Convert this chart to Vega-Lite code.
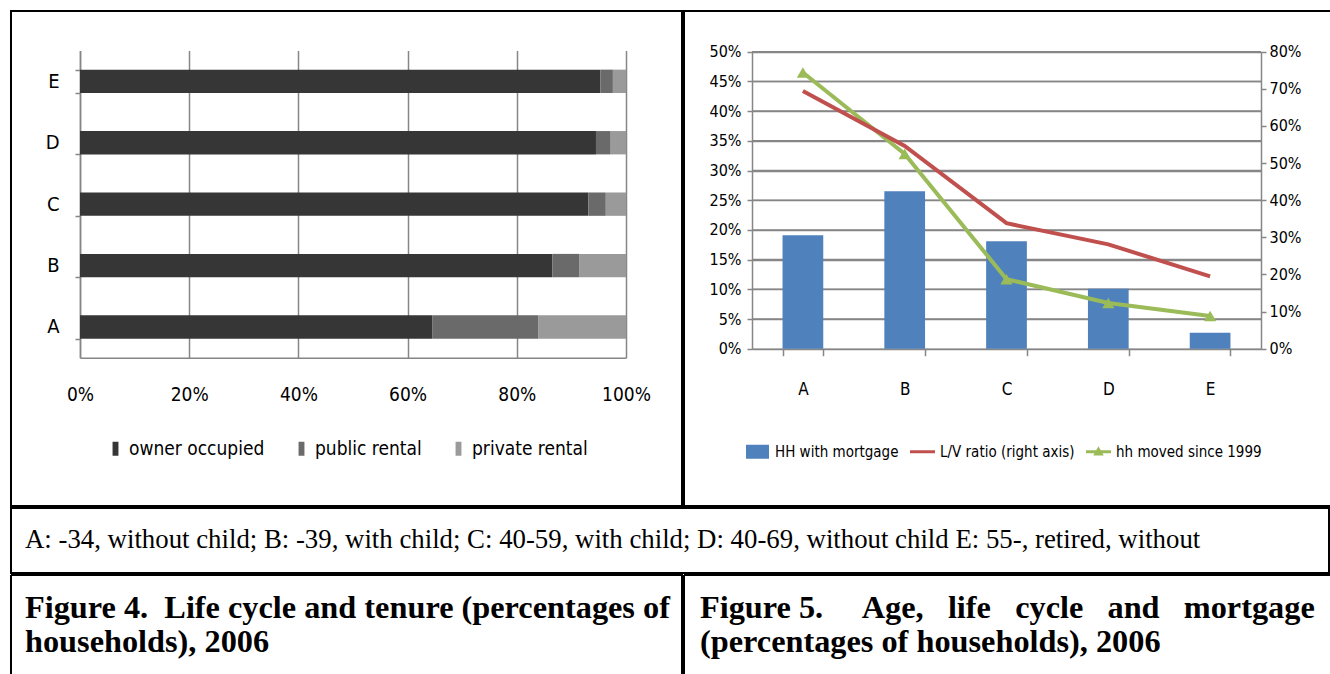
{
  "$schema": "https://vega.github.io/schema/vega-lite/v6.json",
  "padding": {"left": 10, "top": 0, "right": 0, "bottom": 0},
  "spacing": 0,
  "config": {
    "view": {"stroke": "#000000", "strokeWidth": 2},
    "axis": {
      "labelFont": "DejaVu Sans Condensed, Liberation Sans Narrow, sans-serif",
      "labelColor": "#000000",
      "domainColor": "#868686",
      "tickColor": "#868686",
      "gridColor": "#868686",
      "domainWidth": 1.5,
      "tickWidth": 1.5,
      "gridWidth": 1.5
    },
    "legend": {
      "labelFont": "DejaVu Sans Condensed, Liberation Sans Narrow, sans-serif",
      "labelColor": "#000000",
      "labelLimit": 400
    }
  },
  "vconcat": [
    {
      "spacing": 0,
      "resolve": {"scale": {"color": "independent"}, "legend": {"color": "independent"}},
      "hconcat": [
        {
          "width": 671,
          "height": 495,
          "data": {
            "values": [
              {"group": "A", "tenure": "owner occupied", "rank": 1, "share": 0.645},
              {"group": "A", "tenure": "public rental", "rank": 2, "share": 0.194},
              {"group": "A", "tenure": "private rental", "rank": 3, "share": 0.161},
              {"group": "B", "tenure": "owner occupied", "rank": 1, "share": 0.865},
              {"group": "B", "tenure": "public rental", "rank": 2, "share": 0.05},
              {"group": "B", "tenure": "private rental", "rank": 3, "share": 0.085},
              {"group": "C", "tenure": "owner occupied", "rank": 1, "share": 0.931},
              {"group": "C", "tenure": "public rental", "rank": 2, "share": 0.032},
              {"group": "C", "tenure": "private rental", "rank": 3, "share": 0.037},
              {"group": "D", "tenure": "owner occupied", "rank": 1, "share": 0.945},
              {"group": "D", "tenure": "public rental", "rank": 2, "share": 0.027},
              {"group": "D", "tenure": "private rental", "rank": 3, "share": 0.028},
              {"group": "E", "tenure": "owner occupied", "rank": 1, "share": 0.953},
              {"group": "E", "tenure": "public rental", "rank": 2, "share": 0.023},
              {"group": "E", "tenure": "private rental", "rank": 3, "share": 0.024}
            ]
          },
          "mark": {"type": "bar"},
          "encoding": {
            "y": {
              "field": "group",
              "type": "nominal",
              "scale": {"domain": ["E", "D", "C", "B", "A"], "range": [39.6, 346.7], "paddingInner": 0.62, "paddingOuter": 0.31},
              "axis": {"title": null, "orient": "left", "offset": -69, "grid": false, "tickBand": "extent", "tickSize": 5, "labelPadding": 16, "labelFontSize": 20, "labelAngle": 0}
            },
            "x": {
              "field": "share",
              "type": "quantitative",
              "stack": "zero",
              "scale": {"domain": [0, 1], "range": [69, 615]},
              "axis": {"title": null, "orient": "bottom", "offset": -148.3, "values": [0, 0.2, 0.4, 0.6, 0.8, 1], "format": ".0%", "grid": false, "tickSize": -307.1, "labelPadding": 334.4, "labelFontSize": 19, "labelFlush": false, "labelOverlap": false}
            },
            "order": {"field": "rank", "type": "quantitative"},
            "color": {
              "field": "tenure",
              "type": "nominal",
              "scale": {"domain": ["owner occupied", "public rental", "private rental"], "range": ["#363636", "#6a6a6a", "#9a9a9a"]},
              "legend": {
                "title": null,
                "orient": "none",
                "legendX": 95,
                "legendY": 428,
                "direction": "horizontal",
                "labelFontSize": 19,
                "symbolSize": 196,
                "symbolType": "M-0.42,-1H0.42V1H-0.42Z",
                "symbolStrokeWidth": 0,
                "labelOffset": 4,
                "columnPadding": 27
              }
            }
          }
        },
        {
          "width": 647,
          "height": 495,
          "layer": [
            {
              "data": {"values": [{"level": 0.05}, {"level": 0.1}, {"level": 0.15}, {"level": 0.2}, {"level": 0.25}, {"level": 0.3}, {"level": 0.35}, {"level": 0.4}, {"level": 0.45}, {"level": 0.5}]},
              "mark": {"type": "tick", "color": "#868686", "thickness": 1.5, "size": 509, "orient": "horizontal", "opacity": 1},
              "encoding": {
                "x": {
                  "datum": "C",
                  "type": "nominal",
                  "scale": {"domain": ["A", "B", "C", "D", "E"], "range": [68, 577], "paddingInner": 0.6, "paddingOuter": 0.3},
                  "axis": {"title": null, "orient": "bottom", "offset": -157.3, "tickBand": "extent", "tickSize": 7, "labelPadding": 26, "labelFontSize": 17, "labelAngle": 0}
                },
                "y": {
                  "field": "level",
                  "type": "quantitative",
                  "scale": {"domain": [0, 0.5], "range": [337.7, 40.7]},
                  "axis": null
                }
              }
            },
            {
              "data": {
                "values": [
                  {"group": "A", "mortgage": 0.191, "lv": 0.694, "moved": 0.465},
                  {"group": "B", "mortgage": 0.265, "lv": 0.546, "moved": 0.328},
                  {"group": "C", "mortgage": 0.181, "lv": 0.338, "moved": 0.117},
                  {"group": "D", "mortgage": 0.101, "lv": 0.281, "moved": 0.077},
                  {"group": "E", "mortgage": 0.027, "lv": 0.195, "moved": 0.055}
                ]
              },
              "encoding": {
                "x": {
                  "field": "group",
                  "type": "nominal",
                  "scale": {"domain": ["A", "B", "C", "D", "E"], "range": [68, 577], "paddingInner": 0.6, "paddingOuter": 0.3},
                  "axis": {"title": null, "orient": "bottom", "offset": -157.3, "tickBand": "extent", "tickSize": 7, "labelPadding": 26, "labelFontSize": 17, "labelAngle": 0}
                }
              },
              "layer": [
                {
                  "mark": {"type": "bar", "color": "#4F81BD"},
                  "encoding": {
                    "y": {
                      "field": "mortgage",
                      "type": "quantitative",
                      "scale": {"domain": [0, 0.5], "range": [337.7, 40.7]},
                      "axis": {"title": null, "orient": "left", "offset": -68, "values": [0, 0.05, 0.1, 0.15, 0.2, 0.25, 0.3, 0.35, 0.4, 0.45, 0.5], "format": ".0%", "grid": true, "tickSize": 5, "labelPadding": 6, "labelFontSize": 16}
                    },
                    "color": {
                      "datum": "HH with mortgage",
                      "scale": {"domain": ["HH with mortgage", "L/V ratio (right axis)", "hh moved since 1999"], "range": ["#4F81BD", "#C0504D", "#9BBB59"]},
                      "legend": {
                        "title": null,
                        "orient": "none",
                        "legendX": 61,
                        "legendY": 428,
                        "direction": "horizontal",
                        "labelFontSize": 15,
                        "symbolSize": 625,
                        "symbolStrokeWidth": 0,
                        "labelOffset": 5,
                        "columnPadding": 11,
                        "encode": {
                          "symbols": {
                            "update": {
                              "shape": {"signal": "datum.value === 'HH with mortgage' ? 'M-0.92,-0.56H0.92V0.56H-0.92Z' : datum.value === 'L/V ratio (right axis)' ? 'M-1,-0.12H1V0.12H-1Z' : 'M-1,-0.12H1V0.12H-1Z M0,-0.45L0.42,0.3H-0.42Z'"},
                              "strokeWidth": {"value": 0}
                            }
                          }
                        }
                      }
                    }
                  }
                },
                {
                  "mark": {"type": "line", "color": "#9BBB59", "strokeWidth": 4, "point": {"shape": "triangle-up", "size": 150, "filled": true, "color": "#9BBB59"}},
                  "encoding": {
                    "y": {
                      "field": "moved",
                      "type": "quantitative",
                      "scale": {"domain": [0, 0.5], "range": [337.7, 40.7]},
                      "axis": null
                    }
                  }
                },
                {
                  "mark": {"type": "line", "color": "#C0504D", "strokeWidth": 4},
                  "encoding": {
                    "y": {
                      "field": "lv",
                      "type": "quantitative",
                      "scale": {"domain": [0, 0.8], "range": [337.7, 40.7]},
                      "axis": {"title": null, "orient": "right", "offset": -70, "values": [0, 0.1, 0.2, 0.3, 0.4, 0.5, 0.6, 0.7, 0.8], "format": ".0%", "grid": false, "tickSize": 5, "labelPadding": 3, "labelFontSize": 16}
                    }
                  }
                }
              ],
              "resolve": {"scale": {"y": "independent"}, "axis": {"y": "independent"}}
            }
          ],
          "resolve": {"scale": {"y": "independent"}, "axis": {"y": "independent"}}
        }
      ]
    },
    {
      "width": 1318,
      "height": 65,
      "data": {"values": [{"caption": "A: -34,  without child; B: -39, with child; C: 40-59, with child; D: 40-69, without child E: 55-, retired, without"}]},
      "mark": {"type": "text", "align": "left", "baseline": "alphabetic", "font": "Liberation Serif", "fontSize": 26.8, "color": "#000000"},
      "encoding": {
        "text": {"field": "caption"},
        "x": {"value": 14},
        "y": {"value": 40}
      }
    },
    {
      "spacing": 0,
      "hconcat": [
        {
          "width": 671,
          "height": 100,
          "view": {"stroke": "#000000", "strokeWidth": 2, "strokeDash": [771, 671, 100, 0]},
          "data": {"values": [{"heading": ["Figure 4.\u00a0 Life cycle and tenure (percentages of", "households), 2006"]}]},
          "mark": {"type": "text", "align": "left", "baseline": "alphabetic", "font": "Liberation Serif", "fontSize": 32.3, "fontWeight": "bold", "lineHeight": 34, "color": "#000000"},
          "encoding": {
            "text": {"field": "heading"},
            "x": {"value": 14},
            "y": {"value": 43}
          }
        },
        {
          "width": 647,
          "height": 100,
          "view": {"stroke": "#000000", "strokeWidth": 2, "strokeDash": [747, 647, 100, 0]},
          "data": {"values": [{"heading": ["Figure 5.\u00a0\u00a0\u00a0\u00a0 Age,\u00a0\u00a0 life\u00a0\u00a0 cycle\u00a0\u00a0 and\u00a0\u00a0 mortgage", "(percentages of households), 2006"]}]},
          "mark": {"type": "text", "align": "left", "baseline": "alphabetic", "font": "Liberation Serif", "fontSize": 32.3, "fontWeight": "bold", "lineHeight": 34, "color": "#000000"},
          "encoding": {
            "text": {"field": "heading"},
            "x": {"value": 16},
            "y": {"value": 43}
          }
        }
      ]
    }
  ]
}
